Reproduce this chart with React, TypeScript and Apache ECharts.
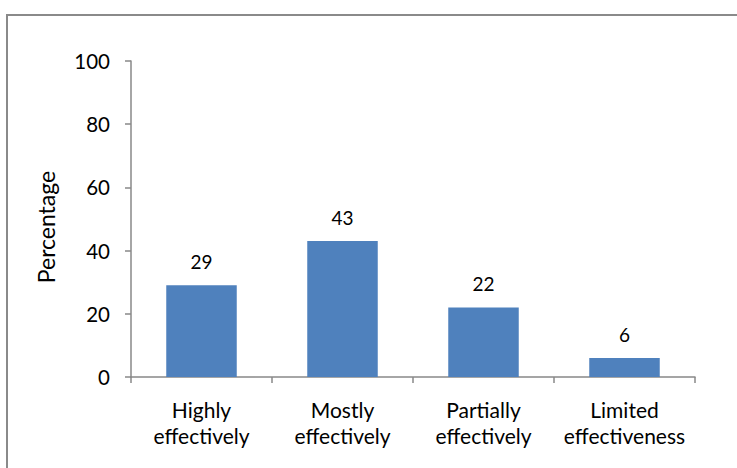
import React, { useEffect, useRef } from "react";
import * as echarts from "echarts";

const categories = ["Highly\neffectively", "Mostly\neffectively", "Partially\neffectively", "Limited\neffectiveness"];
const values = [29, 43, 22, 6];
const yTicks = { min: 0, max: 100, interval: 20 };
const yTitle = "Percentage";

const FONT = "Lato, 'Open Sans', sans-serif";
const AXIS_GRAY = "#888888";

export default function App() {
  const ref = useRef<HTMLDivElement>(null);

  useEffect(() => {
    if (!ref.current) return;
    const chart = echarts.init(ref.current, undefined, { renderer: "svg" });
    chart.setOption({
      animation: false,
      backgroundColor: "#ffffff",
      textStyle: { fontFamily: FONT },
      grid: { left: 131, right: 42, top: 61, bottom: 91, containLabel: false },
      xAxis: {
        type: "category",
        data: categories,
        axisLine: { lineStyle: { color: AXIS_GRAY, width: 1.5 } },
        axisTick: { show: true, alignWithLabel: false, length: 6, lineStyle: { color: AXIS_GRAY, width: 1.5 } },
        axisLabel: {
          color: "#000",
          fontSize: 21,
          lineHeight: 26,
          margin: 19,
          fontFamily: FONT,
          interval: 0,
        },
      },
      yAxis: {
        type: "value",
        min: yTicks.min,
        max: yTicks.max,
        interval: yTicks.interval,
        splitLine: { show: false },
        axisLine: { show: true, lineStyle: { color: AXIS_GRAY, width: 1.5 } },
        axisTick: { show: true, length: 6, inside: false, lineStyle: { color: AXIS_GRAY, width: 1.5 } },
        axisLabel: { color: "#000", fontSize: 20.5, margin: 21, fontFamily: FONT },
      },
      series: [
        {
          type: "bar",
          data: values,
          barWidth: "50%",
          itemStyle: { color: "#4F81BD" },
          label: {
            show: true,
            position: "top",
            distance: 14,
            color: "#000",
            fontSize: 19,
            fontFamily: FONT,
          },
        },
      ],
      graphic: [
        {
          type: "rect",
          shape: { x: 7, y: 15, width: 800, height: 600 },
          style: { fill: "none", stroke: "#8a8a8a", lineWidth: 2 },
          silent: true,
        },
        {
          type: "text",
          x: 46,
          y: 227,
          rotation: Math.PI / 2,
          style: {
            text: yTitle,
            fontSize: 23,
            fontFamily: FONT,
            fill: "#000",
            align: "center",
            verticalAlign: "middle",
          },
        },
      ],
    });
    return () => chart.dispose();
  }, []);

  return <div ref={ref} style={{ position: "fixed", left: 0, top: 0, width: 737, height: 468 }} />;
}
